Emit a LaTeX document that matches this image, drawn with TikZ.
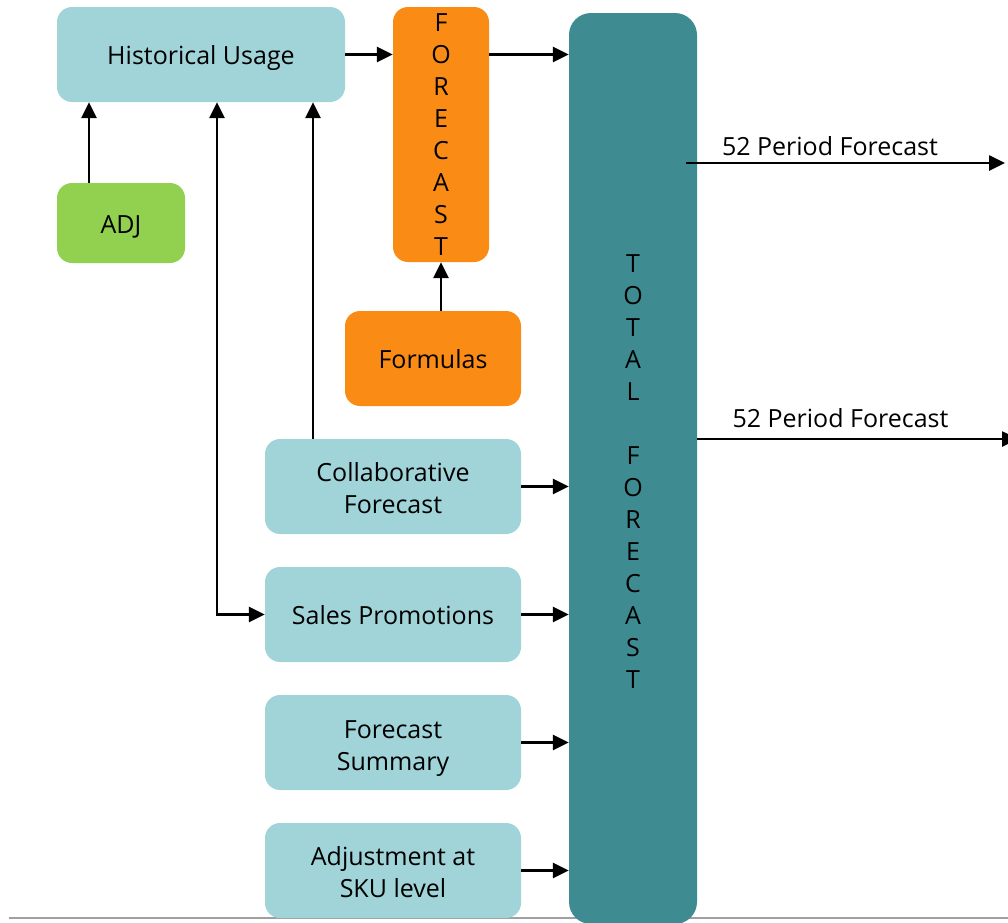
\documentclass[tikz,border=0pt]{standalone}
\usepackage{fontspec}
\setmainfont{Open Sans}
\usetikzlibrary{arrows.meta}

\definecolor{paleteal}{RGB}{160,212,216}
\definecolor{deepteal}{RGB}{62,139,145}
\definecolor{tangerine}{RGB}{250,140,22}
\definecolor{leafgreen}{RGB}{146,208,80}
\definecolor{rulegray}{RGB}{160,160,160}

% invisible strut that lowers the first line of a stacked label
\newcommand{\hdrstrut}[1]{\rule{0pt}{#1}}

\tikzset{
  card/.style={draw=none, rounded corners=15pt, inner sep=0pt, align=center,
    text=black, font=\fontsize{25}{32}\selectfont},
  oneline/.style={text height=20pt, text depth=0pt},
  inputcard/.style={card, fill=paleteal, minimum width=256pt, minimum height=95pt},
  blk/.tip={Triangle[length=16pt,width=15pt]},
  conn/.style={draw=black, line width=2.6pt, -{blk}},
  twoway/.style={draw=black, line width=2.6pt, {blk}-{blk}},
  outlabel/.style={anchor=base, inner sep=0pt, font=\fontsize{25}{32}\selectfont}
}

\begin{document}
\begin{tikzpicture}[x=1pt, y=-1pt]
\useasboundingbox (0,0) rectangle (1008,922);

% baseline rule along the bottom
\coordinate (ruleL) at (9,918);
\coordinate (ruleR) at (1008,918);
\draw[rulegray, line width=2pt] (ruleL) -- (ruleR);

% boxes
\node[card, oneline, fill=paleteal, minimum width=288pt, minimum height=95pt]
  (hist) at (201,54.5) {Historical Usage};
\node[card, oneline, fill=leafgreen, minimum width=128pt, minimum height=80pt]
  (adj) at (121,223) {ADJ};
\node[card, fill=tangerine, minimum width=96pt, minimum height=255pt]
  (fc) at (441,134.5) {F\\O\\R\\E\\C\\A\\S\\T};
\node[card, oneline, fill=tangerine, minimum width=176pt, minimum height=95pt]
  (formulas) at (433,358.5) {Formulas};
\node[card, fill=deepteal, rounded corners=22pt, minimum width=128pt, minimum height=911pt]
  (total) at (633,468.5)
  {\hdrstrut{24pt}T\\O\\T\\A\\L\\\mbox{}\\F\\O\\R\\E\\C\\A\\S\\T};

\node[inputcard] (collab) at (393,486.5) {\hdrstrut{23pt}Collaborative\\Forecast};
\node[inputcard, oneline] (sales) at (393,614.5) {Sales Promotions};
\node[inputcard] (summary) at (393,742.5) {\hdrstrut{23pt}Forecast\\\smash{Summary}};
\node[inputcard] (sku) at (393,870.5) {\hdrstrut{23pt}Adjustment at\\SKU level};

% flows into the forecast
\draw[conn] (hist.east) -- (hist.east -| fc.west);
\draw[conn] (fc.east |- hist.east) -- (total.west |- hist.east);
\draw[conn] ([xshift=-32pt]adj.north) -- ([xshift=-32pt]adj.north |- hist.south);
\draw[twoway] ([xshift=16pt]hist.south) |- (sales.west);
\draw[conn] ([xshift=-80pt]collab.north) -- ([xshift=-80pt]collab.north |- hist.south);
\draw[conn] (fc.south |- formulas.north) -- (fc.south);

% inputs into the total forecast
\draw[conn] (collab.east) -- (collab.east -| total.west);
\draw[conn] (sales.east) -- (sales.east -| total.west);
\draw[conn] (summary.east) -- (summary.east -| total.west);
\draw[conn] (sku.east) -- (sku.east -| total.west);

% outputs
\coordinate (out1) at (1005,163);
\coordinate (out2) at (1018,439);
\draw[conn] ([xshift=-11pt]total.east |- out1) -- (out1);
\draw[conn] (total.east |- out2) -- (out2);
\node[outlabel] (lbl1) at (830,155) {52 Period Forecast};
\node[outlabel] (lbl2) at (840.5,427) {52 Period Forecast};
\end{tikzpicture}
\end{document}
